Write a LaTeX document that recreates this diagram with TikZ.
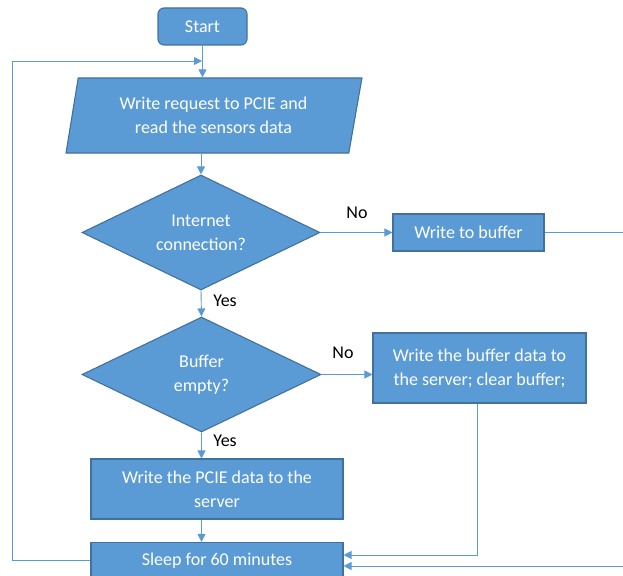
\documentclass[tikz,border=0pt]{standalone}
\usepackage{fontspec}
\setmainfont{Carlito}
\usetikzlibrary{shapes.geometric,arrows.meta}
\definecolor{boxfill}{HTML}{5B9BD5}
\definecolor{boxline}{HTML}{41719C}
\definecolor{wire}{HTML}{5B9BD5}
\tikzset{
  every node/.style={font=\fontsize{18}{24}\selectfont},
  shapebox/.style={fill=boxfill, draw=boxline, line width=1.1pt, text=white,
    align=center, inner sep=0pt},
  procbox/.style={shapebox, rectangle},
  termbox/.style={shapebox, rectangle, rounded corners=6pt},
  iobox/.style={shapebox, trapezium, trapezium left angle=77,
    trapezium right angle=104, trapezium stretches=true},
  decbox/.style={shapebox, diamond, aspect=2},
  wireline/.style={draw=wire, line width=0.9pt},
  arr/.style={wireline, -{Triangle[length=8pt,width=8pt]}},
  lbl/.style={text=black, inner sep=0pt}
}
\begin{document}
\begin{tikzpicture}[x=1pt,y=-1pt]
\useasboundingbox (0,0) rectangle (623,575);
\clip (0,0) rectangle (623,575);

% nodes
\node[termbox, minimum width=89pt, minimum height=37pt] (start) at (202.5,26.5) {Start};
\node[iobox, minimum width=296pt, minimum height=75pt] (input) at (213.5,115.5)
  {Write request to PCIE and\\read the sensors data};
\node[decbox, minimum width=238pt, minimum height=115pt] (dec1) at (201,232.5)
  {Internet\\connection?};
\node[procbox, minimum width=151pt, minimum height=37pt] (buf) at (468.5,232.5)
  {Write to buffer};
\node[decbox, minimum width=239pt, minimum height=115pt] (dec2) at (201.5,374.5)
  {Buffer\\empty?};
\node[procbox, minimum width=213pt, minimum height=70pt] (flush) at (479.5,368)
  {Write the buffer data to\\the server; clear buffer;};
\node[procbox, minimum width=252pt, minimum height=60pt] (send) at (217,489)
  {Write the PCIE data to the\\server};
\node[procbox, minimum width=252pt, minimum height=36pt] (sleep) at (217,560.5)
  {Sleep for 60 minutes};

% connector end points
\coordinate (merge) at (202,61);
\coordinate (loopx) at (12,0);
\coordinate (edgeA) at (623,232.5);
\coordinate (edgeB) at (623,566);

% labels
\node[lbl] (no1) at (357,213) {No};
\node[lbl] (yes1) at (225,301) {Yes};
\node[lbl] (no2) at (343,353) {No};
\node[lbl] (yes2) at (225,441) {Yes};

% connectors
\draw[arr] (start.south) -- (start.south |- input.north);
\draw[arr] (sleep.west) -| (loopx |- merge) -- (merge);
\draw[arr] (dec1.north |- input.south) -- (dec1.north);
\draw[arr] (dec1.east) -- (buf.west);
\draw[wireline] (buf.east) -- (edgeA);
\draw[arr] (dec1.south) -- (dec2.north);
\draw[arr] (dec2.east) -- (dec2.east -| flush.west);
\draw[arr] (dec2.south) -- (dec2.south |- send.north);
\draw[arr] (dec2.south |- send.south) -- (dec2.south |- sleep.north);
\draw[arr] ([xshift=-2.5pt]flush.south) |- ([yshift=5.5pt]sleep.east);
\draw[arr] (edgeB) -- (edgeB -| sleep.east);
\end{tikzpicture}
\end{document}
